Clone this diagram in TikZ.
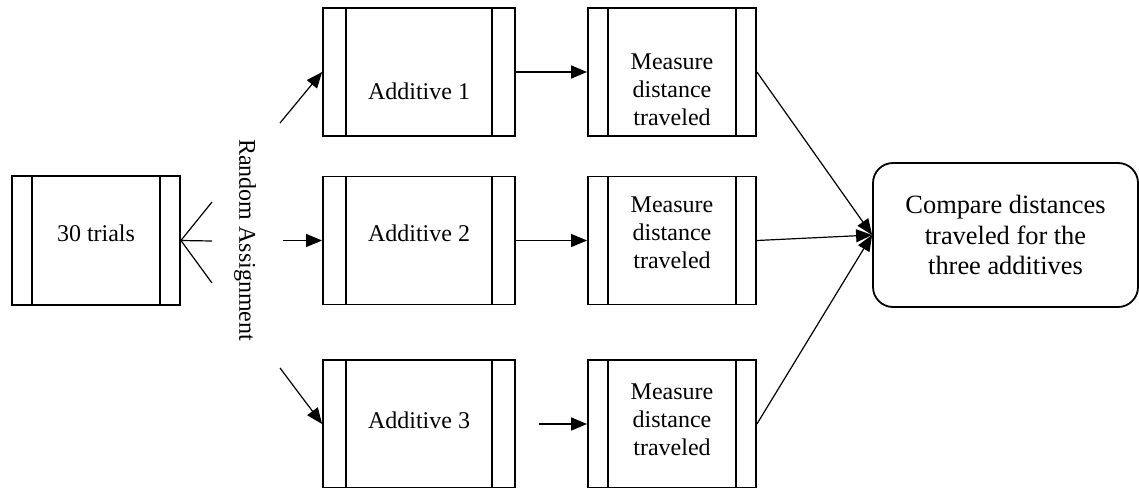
\documentclass[tikz,border=0pt]{standalone}
\usepackage{fontspec}
\setmainfont{Liberation Serif}
\usetikzlibrary{arrows.meta,positioning}
\tikzset{
	procbox/.style 2 args = {draw, rectangle, line width=0.9pt, inner sep=0pt,
		minimum width=#1, minimum height=64pt,
		path picture={\draw[-, line width=0.9pt]
			([xshift=#2]path picture bounding box.north west) -- ([xshift=#2]path picture bounding box.south west)
			([xshift=-#2]path picture bounding box.north east) -- ([xshift=-#2]path picture bounding box.south east);}},
	addbox/.style = {procbox={96pt}{11.5pt}},
	measbox/.style = {procbox={84pt}{10pt}},
	txt/.style = {align=center, font=\fontsize{12}{14}\selectfont}
}
\begin{document}
\begin{tikzpicture}[x=0.5pt,y=-0.5pt,->,>={Triangle[length=8pt,width=6.5pt]},line width=0.6pt]
\useasboundingbox (0,0) rectangle (1139,487);
\node [procbox={84pt}{10pt}, minimum height=64.5pt, label={[txt,yshift=3.75pt]center:30 trials}] (trials) at (96,240.5) {};
\node [txt, rotate=-90] (rand) at (245,240) {Random Assignment};
% additives
\node [addbox, label={[txt,yshift=-9.5pt]center:Additive 1}] (add1) at (419,72) {};
\node [addbox, label={[txt,yshift=3.75pt]center:Additive 2}] (add2) at (419,240.5) {};
\node [addbox, label={[txt,yshift=2pt]center:Additive 3}] (add3) at (419,424) {};
% measurements
\node [measbox, label={[txt,yshift=-9pt]center:Measure\\distance\\traveled}] (meas1) at (672,72) {};
\node [measbox, label={[txt,yshift=3.75pt]center:Measure\\distance\\traveled}] (meas2) at (672,240.5) {};
\node [measbox, label={[txt,yshift=2pt]center:Measure\\distance\\traveled}] (meas3) at (672,424) {};
\node [draw, rounded corners=10pt, line width=0.9pt, minimum width=132.5pt, minimum height=72pt,
	align=center, font=\fontsize{13.2}{15.2}\selectfont] (cmp) at (1005.5,235)
	{Compare distances\\traveled for the\\three additives};
% fan out of the trials
\coordinate (f1) at (212,202);
\coordinate (f2) at (212,241);
\coordinate (f3) at (212,283);
\draw [-] (f1) -- (trials.east) -- (f3) (trials.east) -- (f2);
\coordinate (s1) at (280,123);
\coordinate (s2) at (283,240.5);
\coordinate (s3) at (280,368);
\coordinate (s4) at (539,424);
\draw (s1) -- (add1.west);
\draw (s2) -- (add2.west);
\draw (s3) -- (add3.west);
\draw (add1) -- (meas1);
\draw (add2) -- (meas2);
\draw (s4) -- (meas3.west);
\draw (meas1.east) -- (cmp.west);
\draw (meas2.east) -- (cmp.west);
\draw (meas3.east) -- (cmp.west);
\end{tikzpicture}
\end{document}
